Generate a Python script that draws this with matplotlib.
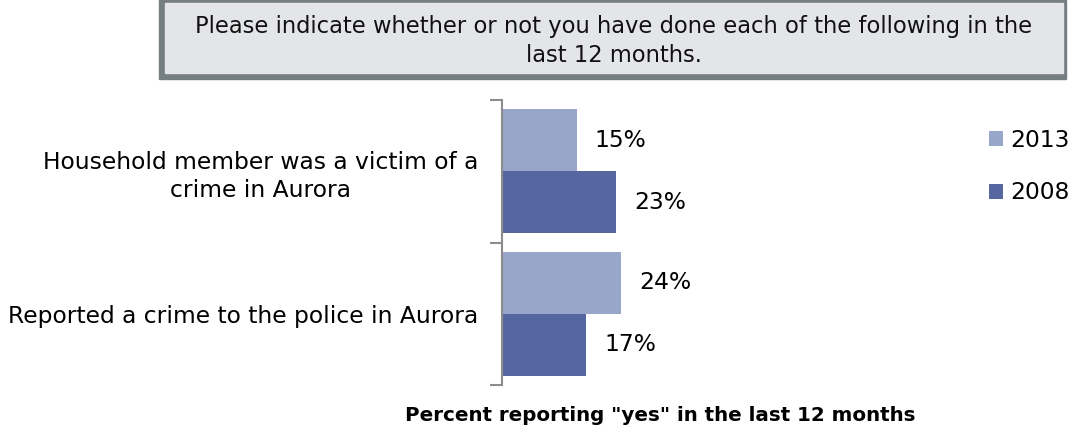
import matplotlib.pyplot as plt
import numpy as np
from matplotlib.patches import Rectangle

# data
categories = ['Household member was a victim of a\ncrime in Aurora',
              'Reported a crime to the police in Aurora']
years = ['2013', '2008']
pct_2013 = [15, 24]
pct_2008 = [23, 17]

question = ('Please indicate whether or not you have done each of the following in the\n'
            'last 12 months.')
xlabel = 'Percent reporting "yes" in the last 12 months'

light = '#98a6c9'
dark = '#5566a0'
grey = '#8c8c8c'
fs = 16.8

W, H = 1076, 433
fig = plt.figure(figsize=(W / 100, H / 100), dpi=100)

# question box with a shadow on the left/bottom
fig.patches.append(Rectangle((159 / W, 1 - 79 / H), (1066 - 159) / W, 79 / H,
                             transform=fig.transFigure, color='#757f82', zorder=0))
fig.patches.append(Rectangle((165 / W, 1 - 72.5 / H), (1063 - 165) / W, (72.5 - 3) / H,
                             transform=fig.transFigure, color='#e4e5e8', zorder=1))
fig.text(614 / W, 1 - 41 / H, question, ha='center', va='center',
         fontsize=16.3, linespacing=1.3, color='#111111')

ax = fig.add_axes([502 / W, 1 - 385 / H, 316 / W, 285 / H])

y = np.arange(len(categories))
h = 0.435
r1 = ax.barh(y - h / 2, pct_2013, height=h, color=light, label=years[0])
r2 = ax.barh(y + h / 2, pct_2008, height=h, color=dark, label=years[1])

ax.set_xlim(0, 316 / 4.97)
ax.set_ylim(1.5, -0.5)

ax.bar_label(r1, labels=[f'{v}%' for v in pct_2013], padding=13, fontsize=fs)
ax.bar_label(r2, labels=[f'{v}%' for v in pct_2008], padding=13, fontsize=fs)

for s in ['top', 'right', 'bottom']:
    ax.spines[s].set_visible(False)
ax.spines['left'].set_color(grey)
ax.spines['left'].set_linewidth(1.5)

ax.set_xticks([])
ax.set_yticks(y)
ax.set_yticklabels(categories, fontsize=fs)
for lbl in ax.get_yticklabels():
    lbl.set_multialignment('center')
    lbl.set_linespacing(1.3)
ax.set_yticks([-0.5, 0.5, 1.5], minor=True)
ax.tick_params(axis='y', which='major', length=0, pad=17)
ax.tick_params(axis='y', which='minor', length=9, width=1.5, color=grey)

ax.set_xlabel(xlabel, fontsize=14.3, fontweight='bold', labelpad=15)

ax.legend(loc='upper left', bbox_to_anchor=(989 / W, 1 - 129 / H),
          bbox_transform=fig.transFigure, frameon=False, fontsize=fs,
          handlelength=0.6, handleheight=0.6, handletextpad=0.3,
          labelspacing=1.26, borderpad=0, borderaxespad=0)

plt.savefig('out.png', dpi=100)
